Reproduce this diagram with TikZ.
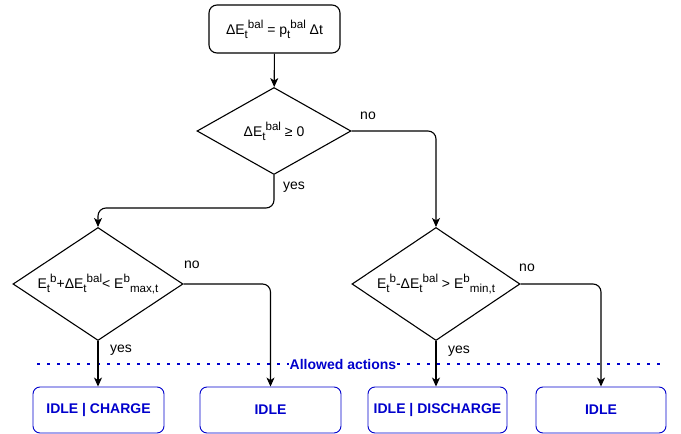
\documentclass[tikz,border=0pt]{standalone}
\usepackage{fontspec}
\setmainfont{Liberation Sans}
\usetikzlibrary{shapes.geometric,arrows.meta}
\definecolor{actblue}{RGB}{0,0,204}
\newcommand{\subtx}[1]{\raisebox{-0.28em}{\fontsize{11.6}{12}\selectfont #1}}
\newcommand{\suptx}[1]{\raisebox{0.42em}{\fontsize{11.6}{12}\selectfont #1}}

\begin{document}
\begin{tikzpicture}[x=1pt,y=-1pt,
    test_node/.style={diamond,aspect=1.5,draw,line width=1.1pt,inner sep=0pt,font=\fontsize{14}{16}\selectfont},
    calc_node/.style={rectangle,rounded corners=8pt,draw,line width=1.1pt,minimum width=131pt,minimum height=48pt,font=\fontsize{14}{16}\selectfont},
    act_node/.style={rectangle,rounded corners=7pt,draw=actblue,line width=0.9pt,minimum height=46pt,text=actblue,font=\bfseries\fontsize{14}{16}\selectfont},
    flow/.style={line width=1.1pt,rounded corners=8pt,-{Stealth[length=9pt,width=8pt,inset=2.5pt]}},
    lbl/.style={font=\fontsize{14}{16}\selectfont}]
    \useasboundingbox (0,0) rectangle (681,434);
    % decisions
    \node[calc_node] (bal) at (274.5,29) {ΔE\subtx{t}\suptx{bal} = p\subtx{t}\suptx{bal} Δt};
    \node[test_node,aspect=1.77,minimum width=154pt,minimum height=87pt] (sign) at (274,131) {ΔE\subtx{t}\suptx{bal} ≥ 0};
    \node[test_node,minimum width=170pt,minimum height=113pt] (upper) at (98,284) {E\subtx{t}\suptx{b}+ΔE\subtx{t}\suptx{bal}< E\suptx{b}\subtx{max,t}};
    \node[test_node,minimum width=168pt,minimum height=113pt] (lower) at (436,284) {E\subtx{t}\suptx{b}-ΔE\subtx{t}\suptx{bal} > E\suptx{b}\subtx{min,t}};
    \coordinate (sign_split) at (274,208);
    % allowed actions
    \coordinate (dots_w) at (37,364);
    \coordinate (dots_e) at (662,364);
    \draw[actblue,line width=2.6pt,dash pattern=on 2.6pt off 7.4pt] (dots_w) -- (dots_e);
    \node[fill=white,text=actblue,font=\bfseries\fontsize{14}{16}\selectfont,inner sep=1pt] (allowed) at (343,364) {Allowed actions};
    \node[act_node,minimum width=131pt] (a1) at (98.5,410) {IDLE | CHARGE};
    \node[act_node,minimum width=141pt] (a2) at (270.5,410) {IDLE};
    \node[act_node,minimum width=139pt] (a3) at (437.5,410) {IDLE | DISCHARGE};
    \node[act_node,minimum width=130pt] (a4) at (601,410) {IDLE};
    % labels
    \node[lbl] (no_sign) at (368,116) {no};
    \node[lbl] (yes_sign) at (294,187) {yes};
    \node[lbl] (no_upper) at (192,265) {no};
    \node[lbl] (yes_upper) at (121,350) {yes};
    \node[lbl] (no_lower) at (527,268) {no};
    \node[lbl] (yes_lower) at (459,351) {yes};
    % arrows
    \draw[flow] (bal) -- (sign);
    \draw[flow] (sign.east) -| (lower.north);
    \draw[flow] (sign.south) -- (sign_split) -| (upper.north);
    \draw[flow] (upper.east) -| (a2.north);
    \draw[flow] (upper.south) -- (upper.south |- a1.north);
    \draw[flow] (lower.east) -| (a4.north);
    \draw[flow] (lower.south) -- (lower.south |- a3.north);
\end{tikzpicture}
\end{document}
